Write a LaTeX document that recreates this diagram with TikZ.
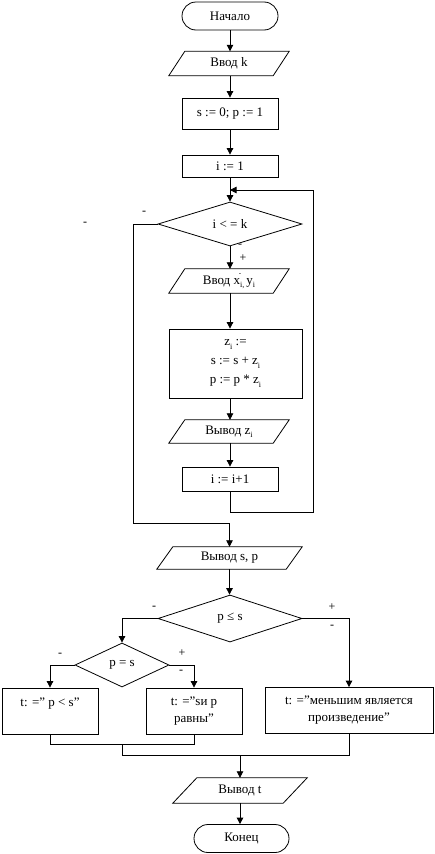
\documentclass[tikz,border=0pt]{standalone}
\usepackage{fontspec}
\setmainfont{Liberation Serif}
\usetikzlibrary{arrows.meta,shapes.geometric,calc}
\newcommand\sub[1]{\raisebox{-3.5pt}{\footnotesize #1}}
\newcommand\drawio[2]{\draw[ln] ([xshift=-#2]#1.south west) -- ([xshift=#2]#1.north west) -- ([xshift=#2]#1.north east) -- ([xshift=-#2]#1.south east) -- cycle;}
\begin{document}
\begin{tikzpicture}[x=1pt,y=-1pt,
  ln/.style={line width=0.8pt},
  arr/.style={ln,-{Triangle[length=6.5pt,width=6.5pt]}},
  every node/.style={font=\fontsize{13}{15}\selectfont, inner sep=0pt},
  term/.style={ln,draw,rounded corners=14pt,minimum width=96pt,minimum height=28pt},
  proc/.style={ln,draw,minimum width=96pt},
  io/.style={minimum height=24pt},
  dec/.style={ln,draw,diamond,aspect=3},
  sign/.style={font=\fontsize{12}{14}\selectfont}]
\fill[white] (0,0) rectangle (434,854);
\useasboundingbox (0,0) rectangle (434,854);

\node[term] (nach) at (230,16) {Начало};
\node[io,minimum width=104pt] (vk) at (229,63.5) {Ввод k};
\drawio{vk}{8pt}
\node[proc,minimum height=31pt] (s0) at (230,113.5) {s := 0; p := 1};
\node[proc,minimum height=22pt] (i1) at (230,166) {i := 1};
\node[dec,minimum width=144pt,minimum height=44pt] (d1) at (230,224) {i < = k};
\node[io,minimum width=104pt] (vx) at (229,281) {Ввод x\sub{i,}\makebox[0pt][r]{\raisebox{9pt}{\scriptsize -}\hspace{3pt}}\,y\sub{i}};
\drawio{vx}{8pt}
\node[proc,minimum width=133pt,minimum height=69pt,align=center,font=\fontsize{13}{19}\selectfont] (zb) at (235.5,363.5) {z\sub{i} :=\\ s := s + z\sub{i}\\ p := p * z\sub{i}};
\node[io,minimum width=104pt,minimum height=23pt] (vz) at (229,431.5) {Вывод z\sub{i}};
\drawio{vz}{8pt}
\node[proc,minimum height=24pt] (i2) at (230,479) {i := i+1};
\node[io,minimum width=129pt,minimum height=22pt] (vsp) at (229.5,558) {Вывод s, p};
\drawio{vsp}{8pt}
\node[dec,minimum width=144pt,minimum height=47pt] (d2) at (230,618.5) {p ≤ s};
\node[dec,minimum width=94pt,minimum height=44pt] (d3) at (122,665) {p = s};
\node[proc,minimum height=46pt,align=center,font=\fontsize{13}{17}\selectfont] (lb) at (50,711) {t: =” p < s”\\ \mbox{}};
\node[proc,minimum height=46pt,align=center,font=\fontsize{13}{17}\selectfont] (mb) at (194,711) {t: =”sи р\\ равны”};
\node[proc,minimum width=168pt,minimum height=46pt,align=center,font=\fontsize{13}{17}\selectfont] (rb) at (349,710.5) {t: =”меньшим является\\ произведение”};
\node[io,minimum width=110pt,minimum height=25pt] (vt) at (240,790.5) {Вывод t};
\drawio{vt}{12pt}
\node[term,minimum width=95pt] (kon) at (241.5,838.5) {Конец};

% sign labels
\node[sign] (m1) at (144,213) {-};
\node[sign] (m2) at (85,224) {-};
\node[sign] (m3) at (240,246) {-};
\node[sign] (p1) at (243,258) {+};
\node[sign] (m4) at (154,608) {-};
\node[sign] (p2) at (332,607) {+};
\node[sign] (m5) at (332,627) {-};
\node[sign] (m6) at (60,655) {-};
\node[sign] (p3) at (182,653) {+};
\node[sign] (m7) at (181,672) {-};

% coordinates
\coordinate (loopB) at (230,512);
\coordinate (loopR) at (313,190);
\coordinate (loopJ) at (230,190);
\coordinate (exitL) at (133,523);
\coordinate (j1) at (122,744);
\coordinate (j2) at (122,755);
\coordinate (j3) at (240,755);

% connectors
\draw[arr] (nach.south) -- (vk.north -| nach.south);
\draw[arr] (vk.south -| s0.north) -- (s0.north);
\draw[arr] (s0.south) -- (i1.north);
\draw[arr] (i1.south) -- (d1.north);
\draw[arr] (d1.south) -- (vx.north -| d1.south);
\draw[arr] (vx.south -| d1.south) -- (zb.north -| d1.south);
\draw[arr] (zb.south -| d1.south) -- (vz.north -| d1.south);
\draw[arr] (vz.south -| d1.south) -- (i2.north);
\draw[ln] (i2.south) -- (loopB) -| (loopR);
\draw[arr] (loopR) -- (loopJ);
\draw[arr] (d1.west) -| (exitL) -| (vsp.north);
\draw[arr] (vsp.south) -- (d2.north -| vsp.south);
\draw[arr] (d2.west) -| (d3.north);
\draw[arr] (d2.east) -| (rb.north);
\draw[arr] (d3.west) -| (lb.north);
\draw[arr] (d3.east) -| (mb.north);
\draw[ln] (lb.south) |- (j1) -| (mb.south);
\draw[ln] (j1) -- (j2) -| (rb.south);
\draw[arr] (j3) -- (vt.north -| j3);
\draw[arr] (vt.south -| j3) -- (kon.north -| j3);
\end{tikzpicture}
\end{document}
